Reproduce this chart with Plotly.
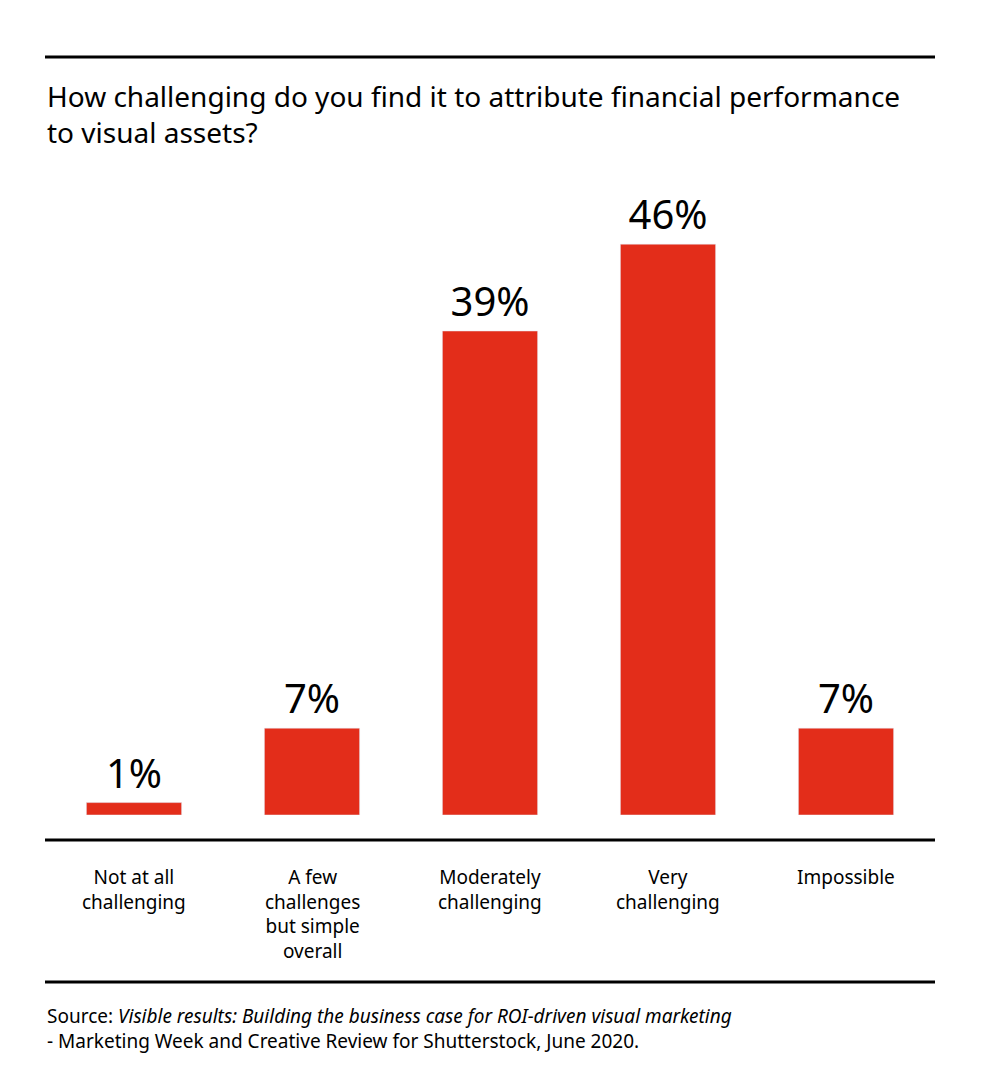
import plotly.graph_objects as go

categories = ["Not at all<br>challenging", "A few<br>challenges<br>but simple<br>overall",
              "Moderately<br>challenging", "Very<br>challenging", "Impossible"]
values = [1, 7, 39, 46, 7]
labels = ["1%", "7%", "39%", "46%", "7%"]

# plot area: px 150..815 tall (665 px)
H = 665.0
def py(px):
    return (815 - px) / H

fig = go.Figure(go.Bar(
    x=list(range(5)), y=values, text=labels, textposition="outside",
    textfont=dict(size=40, color="#000000"), cliponaxis=False,
    marker=dict(color="#E32D1A"), width=0.535,
))

for yy in [57, 840, 982]:
    fig.add_shape(type="line", xref="paper", yref="paper", x0=0, x1=1,
                  y0=py(yy), y1=py(yy), line=dict(color="#000000", width=3))

for i, c in enumerate(categories):
    fig.add_annotation(x=i, y=py(862), xref="x", yref="paper", text=c,
                       showarrow=False, yanchor="top", align="center",
                       font=dict(size=19, color="#000000"))

fig.add_annotation(x=0, y=py(75), xref="paper", yref="paper", xanchor="left", yanchor="top",
                   align="left", showarrow=False,
                   text="How challenging do you find it to attribute financial performance<br>to visual assets?",
                   font=dict(size=28, color="#000000"))
fig.add_annotation(x=0, y=py(1001), xref="paper", yref="paper", xanchor="left", yanchor="top",
                   align="left", showarrow=False,
                   text="Source: <i>Visible results: Building the business case for ROI-driven visual marketing</i><br>- Marketing Week and Creative Review for Shutterstock, June 2020.",
                   font=dict(size=19, color="#000000"))

fig.update_layout(
    width=1000, height=1073, plot_bgcolor="white", paper_bgcolor="white",
    margin=dict(l=37, r=73, t=142, b=266), showlegend=False,
    font=dict(family="Noto Sans, Open Sans, sans-serif"),
    xaxis=dict(range=[-0.5, 4.5], visible=False),
    yaxis=dict(range=[0, H / 12.41], visible=False),
)
fig.write_html("out.html")
